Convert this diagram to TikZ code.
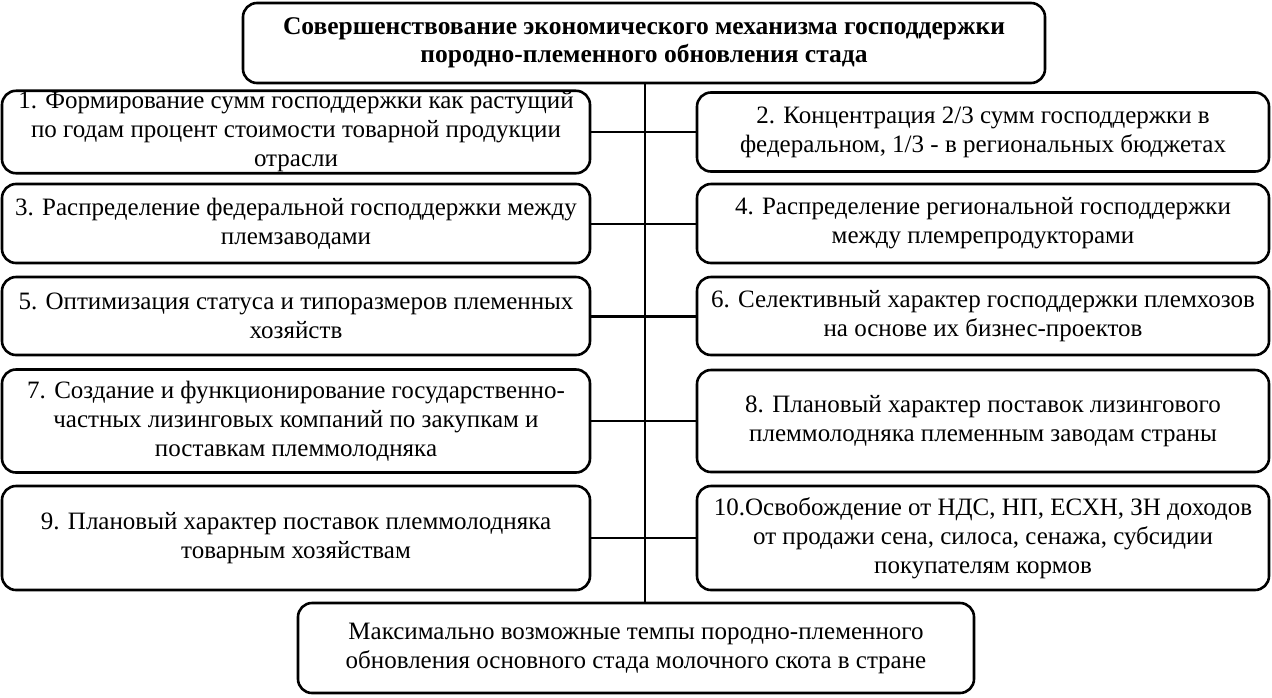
\documentclass[tikz,border=0pt]{standalone}
\usepackage{fontspec}
\setmainfont{Liberation Serif}

\begin{document}
\begin{tikzpicture}[x=1pt, y=-1pt,
		box/.style={draw, line width=2.6pt, rounded corners=14pt, align=center, inner sep=1pt,
			font=\fontsize{25}{29}\selectfont},
		lbox/.style={box, minimum width=588pt},
		rbox/.style={box, minimum width=572pt},
		link/.style={line width=2pt}]
			\useasboundingbox (0,0) rectangle (1272,697);
			
			\node[box, minimum width=802pt, minimum height=80pt, font=\bfseries\fontsize{25.5}{28}\selectfont] (top) at (644,43)
				{Совершенствование экономического механизма господдержки\\ породно-племенного обновления стада};
			
			% left column
			\node[lbox, minimum height=80pt] (m1) at (296,132) {1. Формирование сумм господдержки как растущий\\ по годам процент стоимости товарной продукции\\ отрасли};
			\node[lbox, minimum height=79pt] (m3) at (296,223.5) {3. Распределение федеральной господдержки между\\ племзаводами};
			\node[lbox, minimum height=78pt] (m5) at (296,316) {5. Оптимизация статуса и типоразмеров племенных\\ хозяйств};
			\node[lbox, minimum height=103pt] (m7) at (296,421) {7. Создание и функционирование государственно-\\ частных лизинговых компаний по закупкам и\\ поставкам племмолодняка};
			\node[lbox, minimum height=104pt] (m9) at (296,538) {9. Плановый характер поставок племмолодняка\\ товарным хозяйствам};
			
			% right column
			\node[rbox, minimum height=79pt] (m2) at (983,132) {2. Концентрация 2/3 сумм господдержки в\\ федеральном, 1/3 - в региональных бюджетах};
			\node[rbox, minimum height=79pt] (m4) at (983,223.5) {4. Распределение региональной господдержки\\ между племрепродукторами};
			\node[rbox, minimum height=78pt] (m6) at (983,316) {6. Селективный характер господдержки племхозов\\ на основе их бизнес-проектов};
			\node[rbox, minimum height=102pt] (m8) at (983,421) {8. Плановый характер поставок лизингового\\ племмолодняка племенным заводам страны};
			\node[rbox, minimum height=104pt] (m10) at (983,538) {10.Освобождение от НДС, НП, ЕСХН, ЗН доходов\\ от продажи сена, силоса, сенажа, субсидии\\ покупателям кормов};
			
			\node[box, minimum width=676pt, minimum height=90pt] (res) at (636,648)
				{Максимально возможные темпы породно-племенного\\ обновления основного стада молочного скота в стране};
			
			\coordinate (sp) at (645,0);
			\draw[link] (top.south -| sp) -- (res.north -| sp);
			\draw[link] (m1.east) -- (m2.west);
			\draw[link] (m3.east) -- (m4.west);
			\draw[link, line width=3pt] (m5.east) -- (m6.west);
			\draw[link] (m7.east) -- (m8.west);
			\draw[link] (m9.east) -- (m10.west);
		\end{tikzpicture}
\end{document}
